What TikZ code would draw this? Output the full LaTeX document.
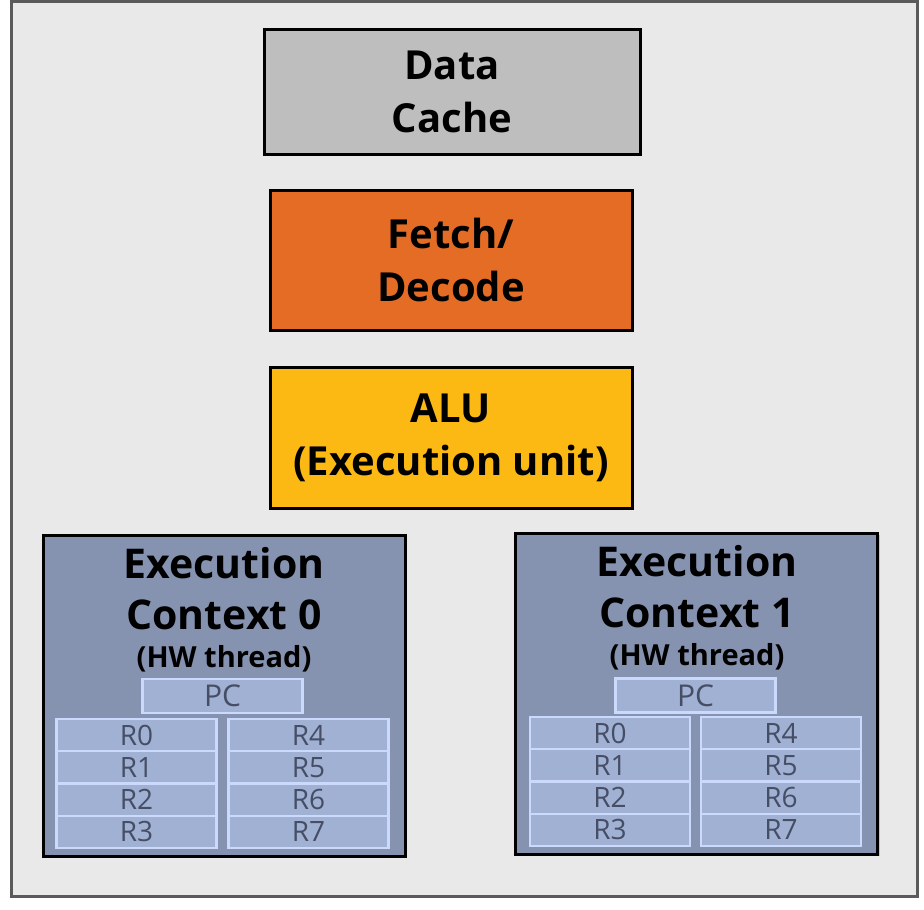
\documentclass[tikz,border=0pt]{standalone}
\usepackage{fontspec}
\setmainfont{Open Sans}
\usetikzlibrary{shadows}
\definecolor{cachegray}{HTML}{BEBEBE}
\definecolor{fetchorange}{HTML}{E56C24}
\definecolor{alugold}{HTML}{FDB913}
\definecolor{ctxblue}{HTML}{8592B0}
\definecolor{regblue}{HTML}{A0B1D3}
\definecolor{regedge}{HTML}{CBD9FC}
\definecolor{regtext}{HTML}{464E66}
\definecolor{chipgray}{HTML}{E9E9E9}
\definecolor{chipedge}{HTML}{5A5A5A}

\begin{document}
\begin{tikzpicture}[x=1pt,y=-1pt,inner sep=0pt,
			unit/.style={draw,line width=3pt,align=center,
				font=\fontsize{40}{53}\selectfont\bfseries,
				drop shadow={shadow xshift=2pt,shadow yshift=-2pt,opacity=.35}},
			ctx/.style={unit,fill=ctxblue,minimum width=362pt,minimum height=321pt},
			title/.style={align=center,font=\fontsize{41}{51}\selectfont\bfseries},
			reg/.style={draw=regedge,line width=2.2pt,fill=regblue,text=regtext,
				font=\fontsize{28}{28}\selectfont,minimum width=160pt,minimum height=32pt}]
	\useasboundingbox (0,0) rectangle (924,910);
	\node [draw=chipedge,line width=3pt,fill=chipgray,minimum width=906pt,minimum height=895pt] (chip) at (464.5,449) {};
	\node [unit,fill=cachegray,minimum width=376pt,minimum height=125pt] (cache) at (452,91.5) {Data\\Cache};
	\node [unit,fill=fetchorange,minimum width=362pt,minimum height=140pt] (fetch) at (451,260) {Fetch/\\Decode};
	\node [unit,fill=alugold,minimum width=362pt,minimum height=141pt] (alu) at (451,437.5) {ALU\\(Execution unit)};
	% context 0
	\node [ctx] (ctx0) at (224,695.5) {};
	\node [title] (ctx0title) at (224,589) {Execution\\Context 0};
	\node [font=\fontsize{29}{29}\selectfont\bfseries,anchor=base] (ctx0hw) at (224,667) {(HW thread)};
	\node [reg,minimum height=34pt,font=\fontsize{30}{30}\selectfont] (ctx0pc) at (222.5,696) {PC};
	\foreach \i in {0,...,3} {
		\pgfmathtruncatemacro{\j}{\i+4}
		\node [reg] (ctx0r\i) at (136.5,{735+32.3*\i}) {R\i};
		\node [reg] (ctx0r\j) at (308.5,{735+32.3*\i}) {R\j};
	}
	% context 1
	\node [ctx] (ctx1) at (696.5,693.5) {};
	\node [title] (ctx1title) at (697,587) {Execution\\Context 1};
	\node [font=\fontsize{29}{29}\selectfont\bfseries,anchor=base] (ctx1hw) at (697,665) {(HW thread)};
	\node [reg,minimum height=34pt,font=\fontsize{30}{30}\selectfont] (ctx1pc) at (695.5,695.5) {PC};
	\foreach \i in {0,...,3} {
		\pgfmathtruncatemacro{\j}{\i+4}
		\node [reg] (ctx1r\i) at (610,{733+32.3*\i}) {R\i};
		\node [reg] (ctx1r\j) at (781,{733+32.3*\i}) {R\j};
	}
\end{tikzpicture}
\end{document}
